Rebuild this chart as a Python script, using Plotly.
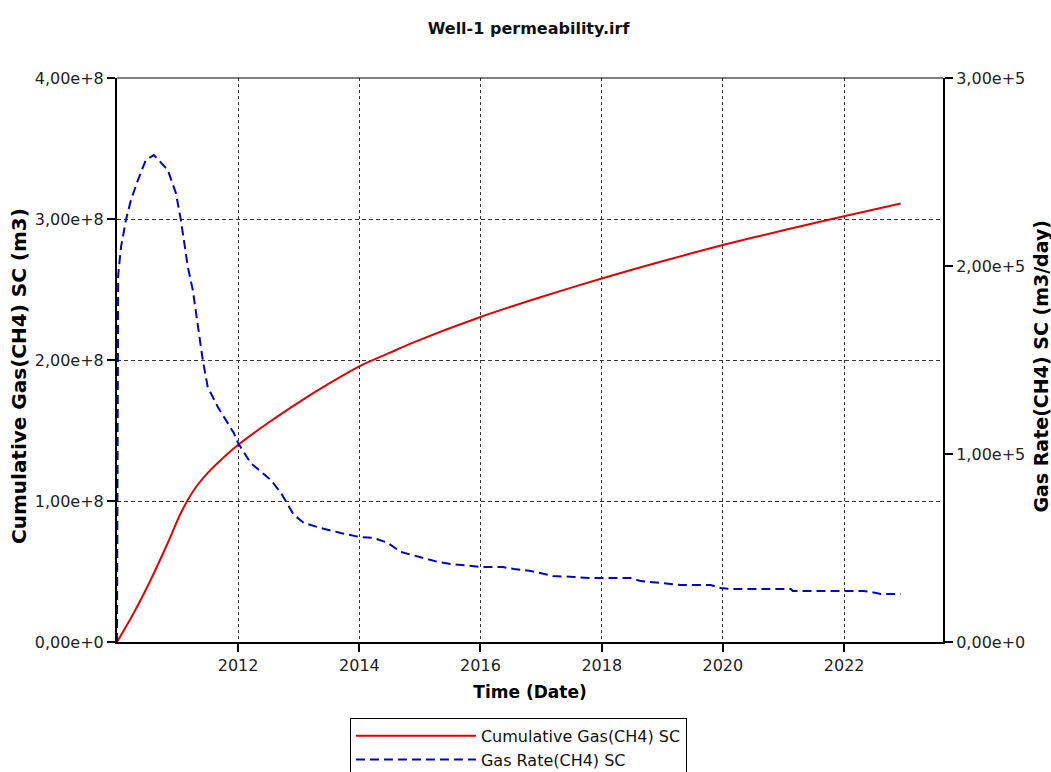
import plotly.graph_objects as go

# ---------------- data ----------------
cum_dates = ["2010-01-01", "2010-04-12", "2010-07-23", "2010-11-03", "2011-01-21",
             "2011-04-10", "2011-07-02", "2011-09-19", "2011-12-31", "2012-07-01",
             "2013-01-01", "2013-07-01", "2014-01-01", "2014-07-01", "2014-11-24",
             "2016-01-01", "2017-01-01", "2018-01-01", "2019-01-01", "2020-01-01",
             "2021-01-01", "2022-01-01", "2022-12-08"]
cum_gas = [0.0, 0.206e8, 0.44e8, 0.702e8, 0.915e8,
           1.078e8, 1.199e8, 1.291e8, 1.397e8, 1.555e8,
           1.70e8, 1.832e8, 1.955e8, 2.05e8, 2.125e8,
           2.305e8, 2.447e8, 2.578e8, 2.70e8, 2.815e8,
           2.92e8, 3.02e8, 3.11e8]

rate_dates = ["2010-01-01", "2010-01-08", "2010-01-25", "2010-02-24", "2010-03-26",
              "2010-05-07", "2010-06-24", "2010-08-11", "2010-11-03", "2010-12-22",
              "2011-01-21", "2011-03-04", "2011-04-03", "2011-05-03", "2011-06-02",
              "2011-07-02", "2011-09-01", "2011-12-06", "2011-12-31", "2012-03-17",
              "2012-07-16", "2012-09-15", "2012-11-02", "2012-12-02", "2013-02-01",
              "2013-05-14", "2013-09-11", "2013-12-30", "2014-03-30", "2014-06-22",
              "2014-09-08", "2015-01-07", "2015-04-19", "2015-07-06", "2015-11-03",
              "2016-01-03", "2016-05-15", "2016-07-20", "2016-10-30", "2016-12-18",
              "2017-03-13", "2017-07-17", "2017-10-16", "2018-06-25", "2018-08-24",
              "2018-12-23", "2019-04-23", "2019-10-20", "2019-12-19", "2020-02-18",
              "2021-02-14", "2021-02-26", "2022-04-28", "2022-06-10", "2022-08-10",
              "2022-12-08"]
gas_rate = [0.0, 1.95e5, 2.10e5, 2.245e5, 2.351e5,
            2.457e5, 2.564e5, 2.59e5, 2.511e5, 2.388e5,
            2.245e5, 1.995e5, 1.872e5, 1.676e5, 1.50e5,
            1.356e5, 1.25e5, 1.112e5, 1.059e5, 0.952e5,
            0.862e5, 0.793e5, 0.718e5, 0.676e5, 0.633e5,
            0.606e5, 0.580e5, 0.559e5, 0.553e5, 0.527e5,
            0.479e5, 0.452e5, 0.426e5, 0.415e5, 0.404e5,
            0.399e5, 0.399e5, 0.388e5, 0.378e5, 0.367e5,
            0.351e5, 0.346e5, 0.340e5, 0.340e5, 0.324e5,
            0.314e5, 0.303e5, 0.303e5, 0.287e5, 0.282e5,
            0.282e5, 0.271e5, 0.271e5, 0.266e5, 0.255e5,
            0.255e5]

x_tick_vals = ["2012-01-01", "2014-01-01", "2016-01-01", "2018-01-01", "2020-01-01", "2022-01-01"]
x_tick_text = ["2012", "2014", "2016", "2018", "2020", "2022"]
left_tick_vals = [0, 1e8, 2e8, 3e8, 4e8]
left_tick_text = ["0,00e+0", "1,00e+8", "2,00e+8", "3,00e+8", "4,00e+8"]
right_tick_vals = [0, 1e5, 2e5, 3e5]
right_tick_text = ["0,00e+0", "1,00e+5", "2,00e+5", "3,00e+5"]

left_title = "<b>Cumulative Gas(CH4) SC (m3)</b>"
right_title = "<b>Gas Rate(CH4) SC (m3/day)</b>"

FONT = "DejaVu Sans"

fig = go.Figure()
fig.add_trace(go.Scatter(x=cum_dates, y=cum_gas, mode="lines", line_shape="spline",
                         name="Cumulative Gas(CH4) SC",
                         line=dict(color="#e00000", width=2, smoothing=0.8)))
fig.add_trace(go.Scatter(x=rate_dates, y=gas_rate, mode="lines", yaxis="y2",
                         name="Gas Rate(CH4) SC",
                         line=dict(color="#0000cc", width=2, dash="9px,5px")))

fig.update_layout(
    width=1051, height=772,
    margin=dict(l=117, r=108, t=78, b=130, autoexpand=False),
    paper_bgcolor="white", plot_bgcolor="white",
    font=dict(family=FONT, size=16, color="#222"),
    title=dict(text="<b>Well-1 permeability.irf</b>", x=0.5029, xanchor="center",
               y=0.9637, yanchor="middle", font=dict(family=FONT, size=16, color="#111")),
    xaxis=dict(type="date", range=["2010-01-01", "2023-08-20"],
               tickvals=x_tick_vals, ticktext=x_tick_text, automargin=False,
               showline=True, linecolor="black", linewidth=2,
               ticks="outside", ticklen=8, tickwidth=2, tickcolor="black",
               showgrid=True, gridcolor="#333", gridwidth=1, griddash="3px,3px",
               zeroline=False,
               title=dict(text="<b>Time (Date)</b>", standoff=12,
                          font=dict(family=FONT, size=17, color="black"))),
    yaxis=dict(range=[0, 4e8], tickvals=left_tick_vals, ticktext=left_tick_text,
               automargin=False,
               showline=True, linecolor="black", linewidth=2,
               ticks="outside", ticklen=8, tickwidth=2, tickcolor="black",
               showgrid=True, gridcolor="#333", gridwidth=1, griddash="4px,3px",
               zeroline=False),
    yaxis2=dict(range=[0, 3e5], overlaying="y", side="right", automargin=False,
                tickvals=right_tick_vals, ticktext=right_tick_text,
                showline=True, linecolor="black", linewidth=2,
                ticks="outside", ticklen=8, tickwidth=2, tickcolor="black",
                showgrid=False, zeroline=False),
    legend=dict(x=0.282, xanchor="left", y=-0.1345, yanchor="top",
                orientation="v", bgcolor="white", bordercolor="black", borderwidth=1,
                font=dict(family=FONT, size=16, color="#111"),
                itemwidth=120, tracegroupgap=0),
    shapes=[dict(type="line", xref="paper", yref="paper", x0=0, x1=1, y0=1, y1=1,
                 line=dict(color="black", width=1))],
    annotations=[
        dict(text=left_title, xref="paper", yref="paper", x=-0.1187, y=0.4716,
             xanchor="center", yanchor="middle", textangle=-90, showarrow=False,
             font=dict(family=FONT, size=20, color="black")),
        dict(text=right_title, xref="paper", yref="paper", x=1.1186, y=0.49,
             xanchor="center", yanchor="middle", textangle=-90, showarrow=False,
             font=dict(family=FONT, size=19, color="black")),
    ],
)

fig.write_html("out.html", config={"displayModeBar": False},
               post_script="document.body.style.margin='0';document.body.style.overflow='hidden';")
